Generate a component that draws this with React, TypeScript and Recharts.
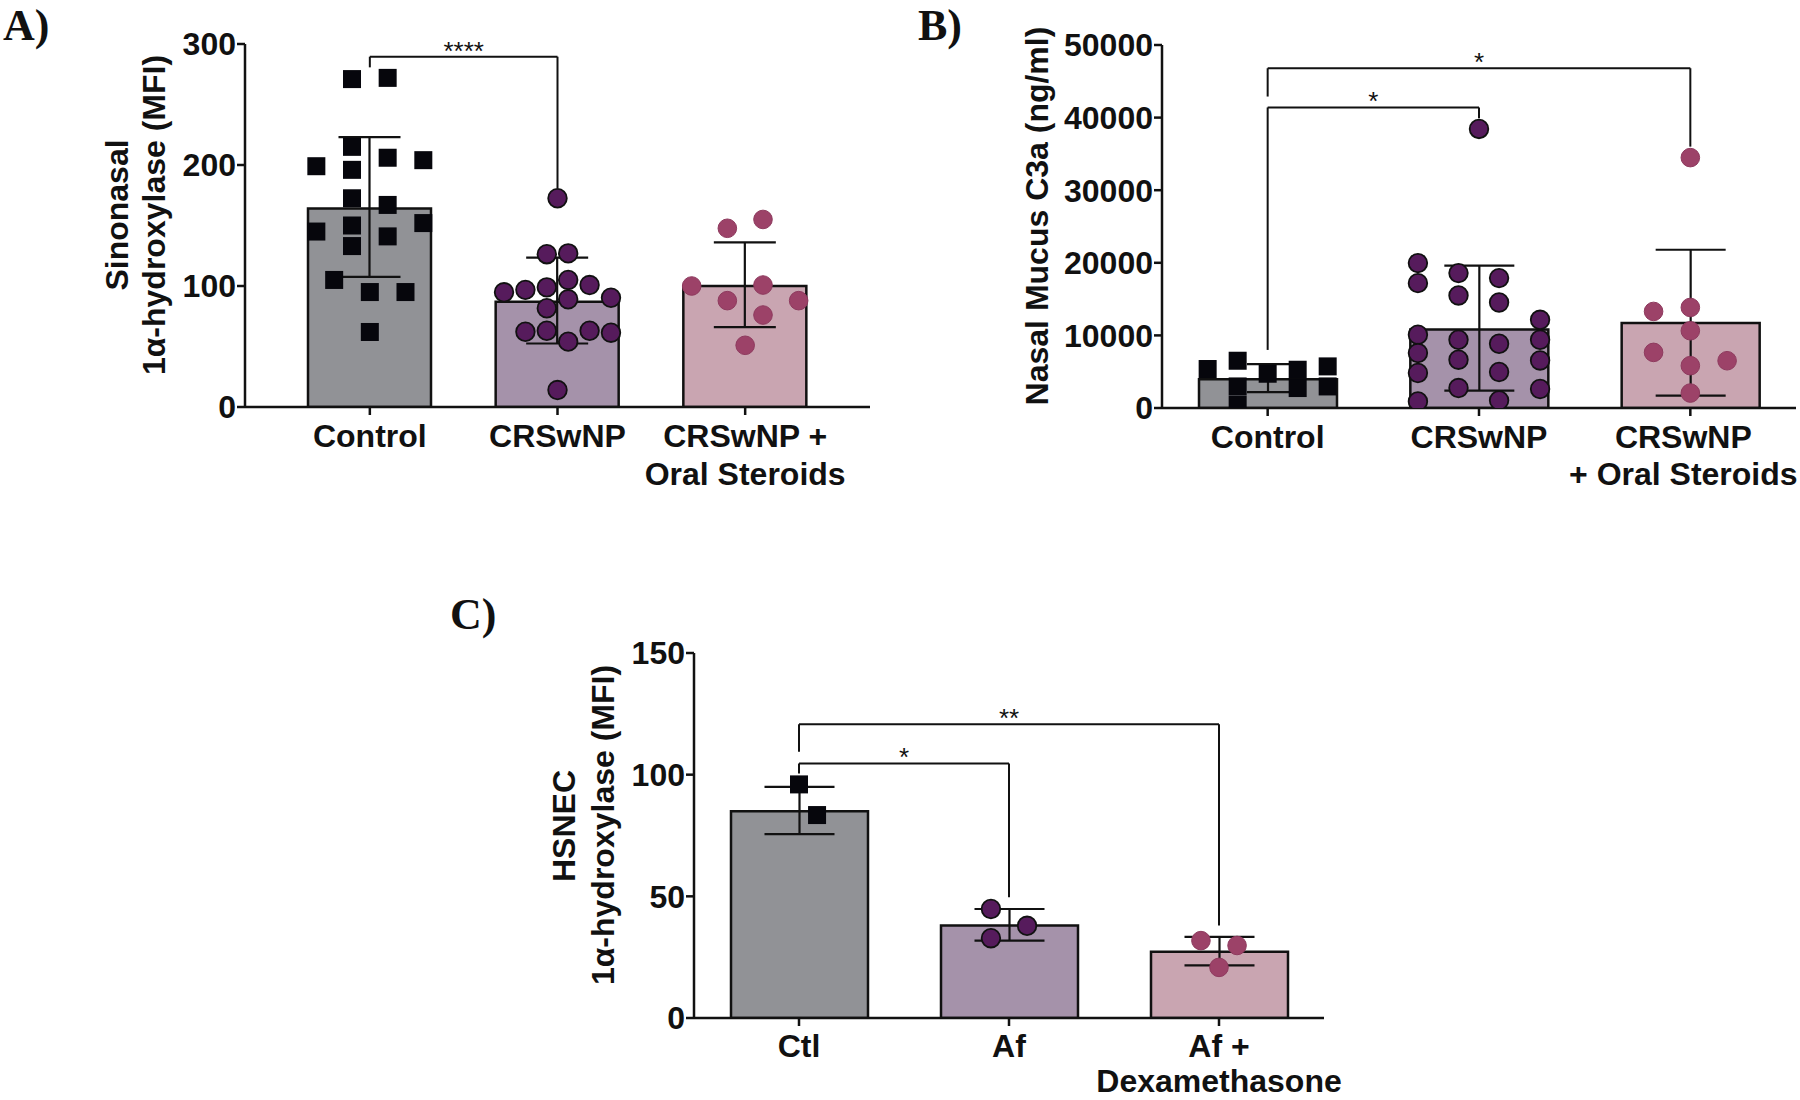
import React from "react";
import {
  ComposedChart,
  Bar,
  Cell,
  ErrorBar,
  Scatter,
  XAxis,
  YAxis,
  ReferenceLine,
} from "recharts";

const SANS = "'Liberation Sans', Arial, Helvetica, sans-serif";
const SERIF = "'Liberation Serif', 'Times New Roman', serif";
const INK = "#111111";

const BAR_COLORS = ["#919296", "#a592aa", "#c9a5b1"];

// ---- panel A: sinonasal 1α-hydroxylase ----
const A_GROUPS = ["Control", "CRSwNP", "CRSwNP +\nOral Steroids"];
const A_MEANS = [164, 87, 100];
const A_ERR = [[56.5, 59], [34.5, 36.5], [34, 36]];
const A_TICKS = [0, 100, 200, 300];
const A_CONTROL_Y = [271, 272, 215, 206, 204, 199, 196, 172.5, 167, 152, 145, 150, 141, 133, 105, 95, 95, 62];
const A_CONTROL_X = [-0.095, 0.095, -0.095, 0.095, 0.285, -0.285, -0.095, -0.095, 0.095, 0.285, -0.285, -0.095, 0.095, -0.095, -0.19, 0, 0.19, 0];
const A_CRS_Y = [172.5, 126.3, 127, 105, 100.8, 94.8, 96.8, 98.9, 89, 90.3, 81.6, 62.2, 63, 63, 61.4, 54, 14];
const A_CRS_X = [0, -0.057, 0.057, 0.057, 0.171, -0.285, -0.171, -0.057, 0.057, 0.285, -0.057, -0.171, -0.057, 0.171, 0.285, 0.057, 0];
const A_OS_Y = [147.7, 155, 100, 100.8, 87.9, 87.9, 76, 51];
const A_OS_X = [-0.095, 0.095, -0.285, 0.095, -0.095, 0.285, 0.095, 0];
const A_BRACKETS = [{ from: 0, to: 1, top: 289.5, leftEnd: 280.7, rightEnd: 180.7, text: "****" }];

// ---- panel B: nasal mucus C3a ----
const B_GROUPS = ["Control", "CRSwNP", "CRSwNP\n+ Oral Steroids"];
const B_MEANS = [3950, 10800, 11700];
const B_ERR = [[1750, 2100], [8400, 8800], [10000, 10100]];
const B_TICKS = [0, 10000, 20000, 30000, 40000, 50000];
const B_CONTROL_Y = [5370, 6510, 4720, 5270, 2750, 5730, 2970, 2970, 450];
const B_CONTROL_X = [-0.284, -0.142, 0, 0.142, 0.142, 0.284, 0.284, -0.142, -0.142];
const B_CRS_Y = [38440, 19960, 17200, 10090, 7570, 4820, 910, 18580, 15500, 9400, 6650, 2750, 17890, 14530, 8850, 4960, 1050, 12150, 9400, 6550, 2620];
const B_CRS_X = [0, -0.289, -0.289, -0.289, -0.289, -0.289, -0.289, -0.097, -0.097, -0.097, -0.097, -0.097, 0.095, 0.095, 0.095, 0.095, 0.095, 0.289, 0.289, 0.289, 0.289];
const B_OS_Y = [34490, 13300, 13850, 10640, 7660, 5830, 6510, 2060];
const B_OS_X = [0, -0.174, 0, 0, -0.174, 0, 0.174, 0];
const B_BRACKETS = [
  { from: 0, to: 2, top: 46800, leftEnd: 42900, rightEnd: 36000, text: "*" },
  { from: 0, to: 1, top: 41400, leftEnd: 8000, rightEnd: 39900, text: "*" },
];

// ---- panel C: HSNEC 1α-hydroxylase ----
const C_GROUPS = ["Ctl", "Af", "Af +\nDexamethasone"];
const C_MEANS = [85, 38, 27.2];
const C_ERR = [[9.4, 10], [6.2, 6.8], [5.6, 6.1]];
const C_TICKS = [0, 50, 100, 150];
const C_CTL_Y = [96, 83.4];
const C_CTL_X = [0, 0.086];
const C_AF_Y = [44.8, 37.9, 32.8];
const C_AF_X = [-0.086, 0.086, -0.086];
const C_DEX_Y = [31.8, 29.8, 20.8];
const C_DEX_X = [-0.086, 0.086, 0];
const C_BRACKETS = [
  { from: 0, to: 2, top: 120.7, leftEnd: 109.4, rightEnd: 38, text: "**" },
  { from: 0, to: 1, top: 104.6, leftEnd: 100.5, rightEnd: 49.6, text: "*" },
];

const squareShape = (p: any) => (
  <rect x={p.cx - 9} y={p.cy - 9} width={18} height={18} fill="#06060c" />
);
const darkDot = (p: any) => (
  <circle cx={p.cx} cy={p.cy} r={9.3} fill="#561b5c" stroke={INK} strokeWidth={1.8} />
);
const roseDot = (p: any) => (
  <circle cx={p.cx} cy={p.cy} r={9.3} fill="#9c4268" stroke="#8e3a5e" strokeWidth={1} />
);

function XTick(props: any) {
  const { x, y, payload, shift = 0, first = 32, gap = 38 } = props;
  const lines = String(payload.value).split("\n");
  return (
    <g>
      {lines.map((t, i) => (
        <text
          key={i}
          x={x + shift}
          y={y + first + i * gap}
          textAnchor="middle"
          fontFamily={SANS}
          fontWeight="bold"
          fontSize={32}
          fill={INK}
        >
          {t}
        </text>
      ))}
    </g>
  );
}

const starLabel = (text: string) => (p: any) => {
  const vb = p.viewBox || {};
  const cx = (vb.x ?? 0) + (vb.width ?? 0) / 2;
  return (
    <text x={cx} y={(vb.y ?? 0) + 3} textAnchor="middle" fontFamily={SANS} fontSize={26} fill={INK}>
      {text}
    </text>
  );
};

type Cfg = {
  left: number;
  top: number;
  width: number;
  height: number;
  margin: { top: number; right: number; bottom: number; left: number };
  yWidth: number;
  xHeight: number;
  pad: number;
  barSize: number;
  labelShift: number[];
  labelFirst: number;
  labelGap: number;
  groups: string[];
  means: number[];
  err: number[][];
  caps: number[];
  ticks: number[];
  series: { y: number[]; x: number[]; group: number; shape: any }[];
  brackets: { from: number; to: number; top: number; leftEnd: number; rightEnd: number; text: string }[];
};

function Panel({ cfg }: { cfg: Cfg }) {
  const capSet = Array.from(new Set(cfg.caps));
  const rows = cfg.groups.map((name, i) => {
    const r: any = { name, mean: cfg.means[i] };
    capSet.forEach((w) => {
      r[`err${w}`] = cfg.caps[i] === w ? cfg.err[i] : undefined;
    });
    return r;
  });
  const axisStyle = { stroke: INK, strokeWidth: 2.5 };
  const lineProps = { stroke: INK, strokeWidth: 2, ifOverflow: "visible" as const, xAxisId: "num" };
  return (
    <div style={{ position: "absolute", left: cfg.left, top: cfg.top }}>
      <ComposedChart width={cfg.width} height={cfg.height} data={rows} margin={cfg.margin}>
        <XAxis
          xAxisId="cat"
          dataKey="name"
          type="category"
          padding={{ left: cfg.pad, right: cfg.pad }}
          axisLine={axisStyle}
          tickLine={axisStyle}
          tickSize={8}
          tickMargin={0}
          tick={(p: any) => (
            <XTick
              {...p}
              shift={cfg.labelShift[p.index] ?? 0}
              first={cfg.labelFirst}
              gap={cfg.labelGap}
            />
          )}
          interval={0}
          height={cfg.xHeight}
        />
        <XAxis
          xAxisId="num"
          dataKey="x"
          type="number"
          domain={[-0.5, 2.5]}
          padding={{ left: cfg.pad, right: cfg.pad }}
          allowDataOverflow
          hide
        />
        <YAxis
          domain={[0, cfg.ticks[cfg.ticks.length - 1]]}
          ticks={cfg.ticks}
          interval={0}
          width={cfg.yWidth}
          axisLine={axisStyle}
          tickLine={axisStyle}
          tickSize={8}
          tickMargin={1}
          allowDataOverflow
          tick={{ fontSize: 32, fontWeight: "bold", fill: INK, fontFamily: SANS }}
        />
        <Bar
          xAxisId="cat"
          dataKey="mean"
          barSize={cfg.barSize}
          stroke={INK}
          strokeWidth={2.5}
          isAnimationActive={false}
        >
          {rows.map((_, i) => (
            <Cell key={i} fill={BAR_COLORS[i]} />
          ))}
          {capSet.map((w) => (
            <ErrorBar
              key={w}
              dataKey={`err${w}`}
              direction="y"
              width={w}
              stroke={INK}
              strokeWidth={2.2}
            />
          ))}
        </Bar>
        {cfg.series.map((s, k) => (
          <Scatter
            key={k}
            xAxisId="num"
            dataKey="y"
            data={s.y.map((v, i) => ({ x: s.group + s.x[i], y: v }))}
            shape={s.shape}
            isAnimationActive={false}
          />
        ))}
        {cfg.brackets.map((b, i) => (
          <ReferenceLine
            key={`h${i}`}
            {...lineProps}
            segment={[{ x: b.from, y: b.top }, { x: b.to, y: b.top }]}
            label={starLabel(b.text)}
          />
        ))}
        {cfg.brackets.map((b, i) => (
          <ReferenceLine
            key={`l${i}`}
            {...lineProps}
            segment={[{ x: b.from, y: b.top }, { x: b.from, y: b.leftEnd }]}
          />
        ))}
        {cfg.brackets.map((b, i) => (
          <ReferenceLine
            key={`r${i}`}
            {...lineProps}
            segment={[{ x: b.to, y: b.top }, { x: b.to, y: b.rightEnd }]}
          />
        ))}
      </ComposedChart>
    </div>
  );
}

const PANEL_A: Cfg = {
  left: 0, top: 0, width: 900, height: 520,
  margin: { top: 44, right: 30, bottom: 53, left: 165 },
  yWidth: 80, xHeight: 60, pad: 31, barSize: 123,
  labelShift: [0, 0, 0], labelFirst: 32, labelGap: 38,
  groups: A_GROUPS, means: A_MEANS, err: A_ERR, caps: [31, 31, 31], ticks: A_TICKS,
  series: [
    { y: A_CONTROL_Y, x: A_CONTROL_X, group: 0, shape: squareShape },
    { y: A_CRS_Y, x: A_CRS_X, group: 1, shape: darkDot },
    { y: A_OS_Y, x: A_OS_X, group: 2, shape: roseDot },
  ],
  brackets: A_BRACKETS,
};

const PANEL_B: Cfg = {
  left: 900, top: 0, width: 900, height: 520,
  margin: { top: 45, right: 4, bottom: 52, left: 152 },
  yWidth: 110, xHeight: 60, pad: 0, barSize: 138,
  labelShift: [0, 0, -7], labelFirst: 32, labelGap: 37,
  groups: B_GROUPS, means: B_MEANS, err: B_ERR, caps: [21, 35, 35], ticks: B_TICKS,
  series: [
    { y: B_CONTROL_Y, x: B_CONTROL_X, group: 0, shape: squareShape },
    { y: B_CRS_Y, x: B_CRS_X, group: 1, shape: darkDot },
    { y: B_OS_Y, x: B_OS_X, group: 2, shape: roseDot },
  ],
  brackets: B_BRACKETS,
};

const PANEL_C: Cfg = {
  left: 440, top: 580, width: 940, height: 520,
  margin: { top: 73, right: 56, bottom: 32, left: 154 },
  yWidth: 100, xHeight: 50, pad: 0, barSize: 137,
  labelShift: [0, 0, 0], labelFirst: 31, labelGap: 35,
  groups: C_GROUPS, means: C_MEANS, err: C_ERR, caps: [35, 35, 35], ticks: C_TICKS,
  series: [
    { y: C_CTL_Y, x: C_CTL_X, group: 0, shape: squareShape },
    { y: C_AF_Y, x: C_AF_X, group: 1, shape: darkDot },
    { y: C_DEX_Y, x: C_DEX_X, group: 2, shape: roseDot },
  ],
  brackets: C_BRACKETS,
};

function VLabel({ x, y, text }: { x: number; y: number; text: string }) {
  return (
    <text
      x={x}
      y={y}
      transform={`rotate(-90 ${x} ${y})`}
      textAnchor="middle"
      fontFamily={SANS}
      fontWeight="bold"
      fontSize={32}
      fill={INK}
    >
      {text}
    </text>
  );
}

function PanelLetter({ x, y, text }: { x: number; y: number; text: string }) {
  return (
    <text x={x} y={y} fontFamily={SERIF} fontWeight="bold" fontSize={44} fill={INK}>
      {text}
    </text>
  );
}

export default function App() {
  return (
    <div
      style={{
        position: "absolute",
        left: 0,
        top: 0,
        width: 1800,
        height: 1100,
        background: "#ffffff",
        overflow: "hidden",
      }}
    >
      <Panel cfg={PANEL_A} />
      <Panel cfg={PANEL_B} />
      <Panel cfg={PANEL_C} />
      <svg
        width={1800}
        height={1100}
        style={{ position: "absolute", left: 0, top: 0, pointerEvents: "none" }}
      >
        <PanelLetter x={3} y={40} text="A)" />
        <PanelLetter x={918} y={40} text="B)" />
        <PanelLetter x={450} y={629} text="C)" />
        <VLabel x={128} y={215} text="Sinonasal" />
        <VLabel x={165} y={215} text="1α-hydroxylase (MFI)" />
        <VLabel x={1048} y={216} text="Nasal Mucus C3a (ng/ml)" />
        <VLabel x={575} y={826} text="HSNEC" />
        <VLabel x={614} y={825} text="1α-hydroxylase (MFI)" />
      </svg>
    </div>
  );
}
